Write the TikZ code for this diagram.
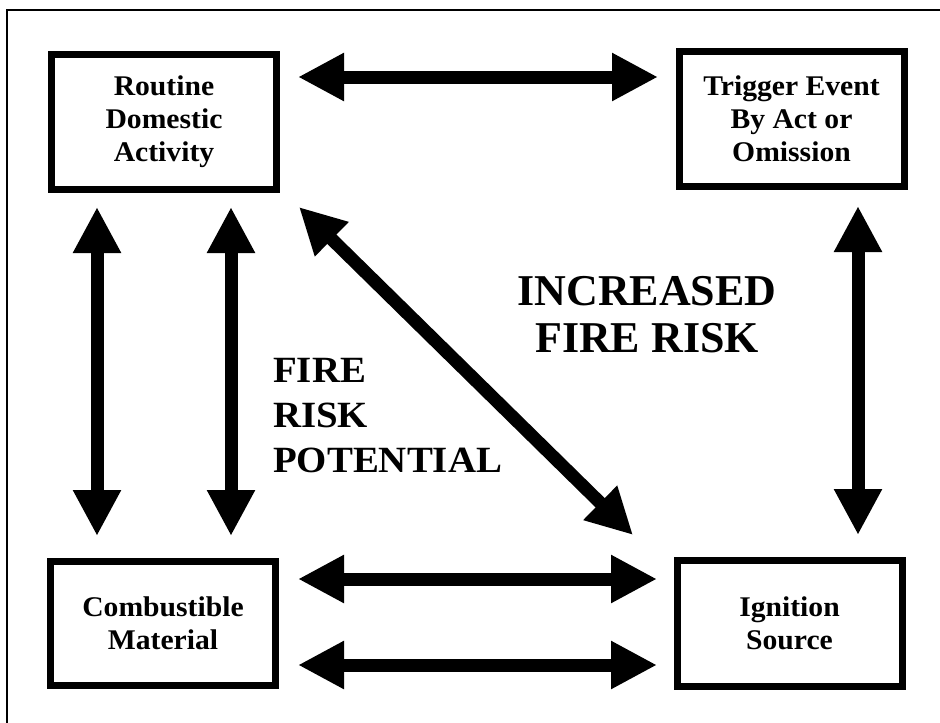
\documentclass[tikz,border=0pt]{standalone}
\usepackage{fontspec}
\setmainfont{Liberation Serif}
\newfontfamily\labelfont[FakeStretch=1.04]{Liberation Serif}
\newfontfamily\notefont[FakeStretch=1.05]{Liberation Serif}
\usetikzlibrary{arrows.meta}
\begin{document}
\begin{tikzpicture}[x=1pt,y=-1pt,
  stage/.style={draw, line width=7pt, minimum width=225pt, inner sep=0pt,
    align=center, font=\labelfont\bfseries\fontsize{28.5}{33}\selectfont},
  link/.style={line width=13pt,
    {Triangle[length=46pt,width=45pt]}-{Triangle[length=46pt,width=45pt]}},
  note/.style={inner sep=0pt, font=\bfseries}]
\useasboundingbox (0,0) rectangle (940,723);
\fill[white] (0,0) rectangle (940,723);
% frame
\begin{scope}
\clip (0,0) rectangle (940,723);
\draw[line width=2pt] (7,10) rectangle (960,745);
\end{scope}

% the four stages
\node[stage, minimum height=135pt] (rda) at (164,122) {Routine\\Domestic\\Activity};
\node[stage, minimum height=135pt] (te)  at (791.5,119) {Trigger Event\\By Act or\\Omission};
\node[stage, minimum height=124pt] (cm)  at (163,623.5) {Combustible\\Material};
\node[stage, minimum height=126pt] (is)  at (789.5,623.5) {Ignition\\Source};

% arrow end points
\coordinate (t1) at (298,77);   \coordinate (t2) at (658,77);
\coordinate (l1) at (97,207);   \coordinate (l2) at (97,536);
\coordinate (m1) at (231,207);  \coordinate (m2) at (231,536);
\coordinate (r1) at (858,206);  \coordinate (r2) at (858,535);
\coordinate (d1) at (299,207);  \coordinate (d2) at (633,535);
\coordinate (b1) at (298,579);  \coordinate (b2) at (657,579);
\coordinate (c1) at (298,665);  \coordinate (c2) at (657,665);

\draw[link] (t1) -- (t2);
\draw[link] (l1) -- (l2);
\draw[link] (m1) -- (m2);
\draw[link] (r1) -- (r2);
\draw[link] (d1) -- (d2);
\draw[link] (b1) -- (b2);
\draw[link] (c1) -- (c2);

% labels
\node[note, anchor=north west, align=left,
  font=\notefont\bfseries\fontsize{37}{45}\selectfont] (frp) at (273,358)
  {FIRE\\RISK\\POTENTIAL};
\node[note, anchor=north, align=center,
  font=\bfseries\fontsize{44}{47}\selectfont] (ifr) at (647,276)
  {INCREASED\\FIRE RISK};
\end{tikzpicture}
\end{document}
